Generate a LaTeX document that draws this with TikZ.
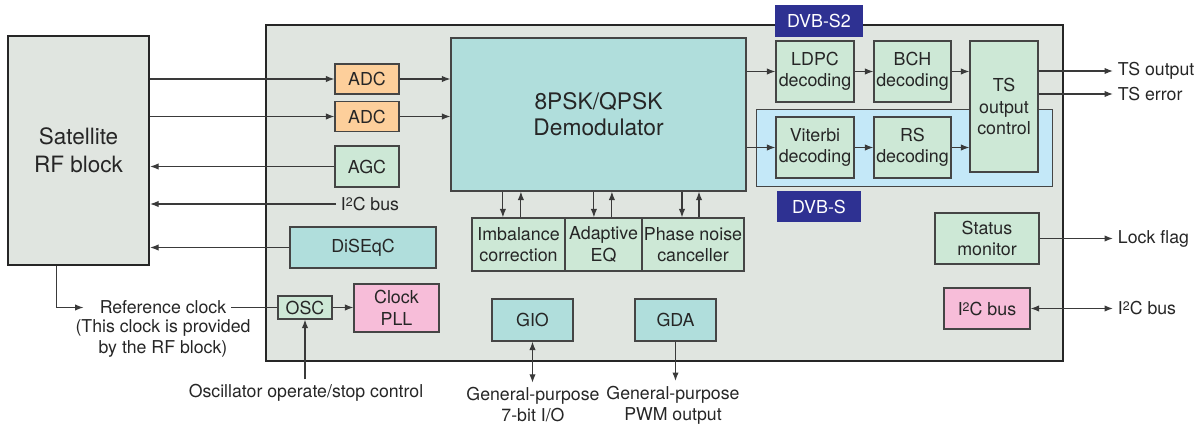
\documentclass[tikz,border=0pt]{standalone}
\usepackage{fontspec}
\setmainfont{TeX Gyre Heros}
\usepackage{tikz}
\usetikzlibrary{positioning, arrows.meta, calc}
\definecolor{chipgray}{HTML}{E0E5E0}
\definecolor{blkgreen}{HTML}{CDE8D6}
\definecolor{blkorange}{HTML}{FDCF9B}
\definecolor{blkteal}{HTML}{B0DEDC}
\definecolor{blkpink}{HTML}{F7BDD9}
\definecolor{dvbsblue}{HTML}{C4E8F8}
\definecolor{tagblue}{HTML}{2E3192}
\definecolor{boxline}{HTML}{454545}
\definecolor{arrline}{HTML}{3A3A3A}
\newcommand{\itwoc}{I\raisebox{0.22em}{\fontsize{8.8}{8.8}\selectfont 2}C}
\tikzset{
	blocknode/.style={
			draw=boxline,
			line width=0.85pt,
			inner sep=0pt,
			align=center,
			text=black!85,
			font=\fontsize{12.7}{15.2}\selectfont
		},
	greennode/.style={
			blocknode,
			fill=blkgreen
		},
	orangenode/.style={
			blocknode,
			fill=blkorange
		},
	tealnode/.style={
			blocknode,
			fill=blkteal
		},
	pinknode/.style={
			blocknode,
			fill=blkpink
		},
	tagnode/.style={
			fill=tagblue,
			text=white,
			inner sep=0pt,
			font=\fontsize{12.7}{15.2}\selectfont
		},
	bignode/.style={
			draw=black!85,
			line width=1.6pt,
			fill=chipgray,
			inner sep=0pt
		},
	labelnode/.style={
			align=center,
			text=black!85,
			font=\fontsize{12.6}{15}\selectfont
		},
	arr/.style={
			draw=arrline,
			line width=0.8pt,
			-{Latex[length=6pt,width=4.5pt]}
		},
	dblarr/.style={
			arr,
			{Latex[length=6pt,width=4.5pt]}-{Latex[length=6pt,width=4.5pt]}
		}
}

\begin{document}
\begin{tikzpicture}[x=0.025cm, y=-0.025cm]
\useasboundingbox (0,0) rectangle (1199,427);

% outer blocks
\node[bignode, minimum width=3.525cm, minimum height=5.725cm,
      font=\fontsize{16}{20}\selectfont, align=center, text=black!85] (sat) at (78.5,150.5) {Satellite\\RF block};
\node[bignode, minimum width=19.925cm, minimum height=8.4cm] (chip) at (664.5,193) {};

% DVB-S area
\node[draw=boxline, line width=0.7pt, fill=dvbsblue, minimum width=7.375cm, minimum height=1.9cm, inner sep=0pt] (dvbsarea) at (904.5,148) {};

% blocks inside the chip
\node[orangenode, minimum width=1.6cm, minimum height=0.75cm] (adc1) at (367,79) {ADC};
\node[orangenode, minimum width=1.6cm, minimum height=0.75cm] (adc2) at (367,116.5) {ADC};
\node[greennode, minimum width=1.6cm, minimum height=1.025cm] (agc) at (367,166.5) {AGC};
\node[tealnode, minimum width=7.375cm, minimum height=3.825cm,
      font=\fontsize{16.2}{18.5}\selectfont] (demod) at (598.5,114.5) {8PSK/QPSK\\Demodulator};

\node[greennode, minimum width=1.95cm, minimum height=1.525cm] (ldpc) at (815,71.5) {LDPC\\decoding};
\node[greennode, minimum width=1.925cm, minimum height=1.525cm] (bch) at (912.5,71.5) {BCH\\decoding};
\node[greennode, minimum width=1.95cm, minimum height=1.525cm] (vit) at (815,147.5) {Viterbi\\decoding};
\node[greennode, minimum width=1.925cm, minimum height=1.525cm] (rs) at (912.5,147.5) {RS\\decoding};
\node[greennode, minimum width=1.7cm, minimum height=3.275cm] (ts) at (1004,106.5) {TS\\output\\control};

\node[tagnode, minimum width=2.2cm, minimum height=0.8cm] (tags2) at (819,21) {DVB-S2};
\node[tagnode, minimum width=2.1cm, minimum height=0.775cm] (tags) at (819,206.5) {DVB-S};

\node[greennode, minimum width=2.325cm, minimum height=1.325cm] (imb) at (518.5,244.5) {Imbalance\\correction};
\node[greennode, minimum width=1.925cm, minimum height=1.325cm] (aeq) at (603.5,244.5) {Adaptive\\EQ};
\node[greennode, minimum width=2.55cm, minimum height=1.325cm] (pnc) at (693,244.5) {Phase noise\\canceller};

\node[tealnode, minimum width=3.65cm, minimum height=1.025cm] (diseqc) at (363,247.5) {DiSEqC};
\node[greennode, minimum width=1.35cm, minimum height=0.575cm] (osc) at (305,307.5) {OSC};
\node[pinknode, minimum width=2.125cm, minimum height=1.2cm] (pll) at (396.5,308) {Clock\\PLL};
\node[tealnode, minimum width=2.025cm, minimum height=1.05cm] (gio) at (532.5,320) {GIO};
\node[tealnode, minimum width=2.025cm, minimum height=1.05cm] (gda) at (675.5,320) {GDA};
\node[greennode, minimum width=2.6cm, minimum height=1.275cm] (status) at (987,238.5) {Status\\monitor};
\node[pinknode, minimum width=2.15cm, minimum height=1.025cm] (i2cchip) at (987,308.5) {\itwoc{} bus};

% outside labels
\node[labelnode, anchor=west] (i2cin) at (336,204) {\itwoc{} bus};
\node[labelnode, anchor=west] (tsout) at (1113,71) {TS output};
\node[labelnode, anchor=west] (tserr) at (1113,94) {TS error};
\node[labelnode, anchor=west] (lock) at (1113,239) {Lock flag};
\node[labelnode, anchor=west] (i2cout) at (1113,308) {\itwoc{} bus};
\node[labelnode] (refclk) at (163,307.5) {Reference clock};
\node[labelnode, below=-3pt of refclk] (refnote) {(This clock is provided\\by the RF block)};
\node[labelnode] (oscctrl) at (306,393) {Oscillator operate/stop control};
\node[labelnode] (gpio) at (533,405) {General-purpose\\7-bit I/O};
\node[labelnode] (pwm) at (673,405) {General-purpose\\PWM output};

% RF side
\draw[arr] (sat.east |- adc1) -- (adc1);
\draw[arr] (sat.east |- adc2) -- (adc2);
\draw[arr] (adc1) -- (adc1 -| demod.west);
\draw[arr] (adc2) -- (adc2 -| demod.west);
\draw[arr] (agc) -- (agc -| sat.east);
\draw[arr] (i2cin.west) -- (i2cin.west -| sat.east);
\draw[arr] (diseqc) -- (diseqc -| sat.east);
\draw[arr, shorten >=8pt] ([xshift=-0.54cm]sat.south) |- (refclk.west);
\draw[draw=arrline, line width=0.8pt] (osc.west) -- (refclk.east);
\draw[arr] (osc) -- (osc -| pll.west);
\draw[arr] (oscctrl.north -| osc.south) -- (osc.south);

% decoder chains
\draw[arr] (demod.east |- ldpc) -- (ldpc);
\draw[arr] (ldpc) -- (bch);
\draw[arr] (bch) -- (bch -| ts.west);
\draw[arr] (demod.east |- vit) -- (vit);
\draw[arr] (vit) -- (rs);
\draw[arr] (rs) -- (rs -| ts.west);
\draw[arr] (ts.east |- tsout) -- (tsout.west);
\draw[arr] (ts.east |- tserr) -- (tserr.west);

% demodulator helpers
\draw[arr] ([xshift=-0.39cm]imb.north |- demod.south) -- ([xshift=-0.39cm]imb.north);
\draw[arr] ([xshift=0.06cm]imb.north) -- ([xshift=0.06cm]imb.north |- demod.south);
\draw[arr] ([xshift=-0.24cm]aeq.north |- demod.south) -- ([xshift=-0.24cm]aeq.north);
\draw[arr] ([xshift=0.21cm]aeq.north) -- ([xshift=0.21cm]aeq.north |- demod.south);
\draw[arr] ([xshift=-0.275cm]pnc.north |- demod.south) -- ([xshift=-0.275cm]pnc.north);
\draw[arr] ([xshift=0.15cm]pnc.north) -- ([xshift=0.15cm]pnc.north |- demod.south);

% general purpose and host side
\draw[dblarr] (gio.south) -- (gio.south |- gpio.north);
\draw[arr] (gda.south) -- (gda.south |- pwm.north);
\draw[arr] (status) -- (status -| lock.west);
\draw[dblarr] (i2cchip) -- (i2cchip -| i2cout.west);
\end{tikzpicture}
\end{document}
